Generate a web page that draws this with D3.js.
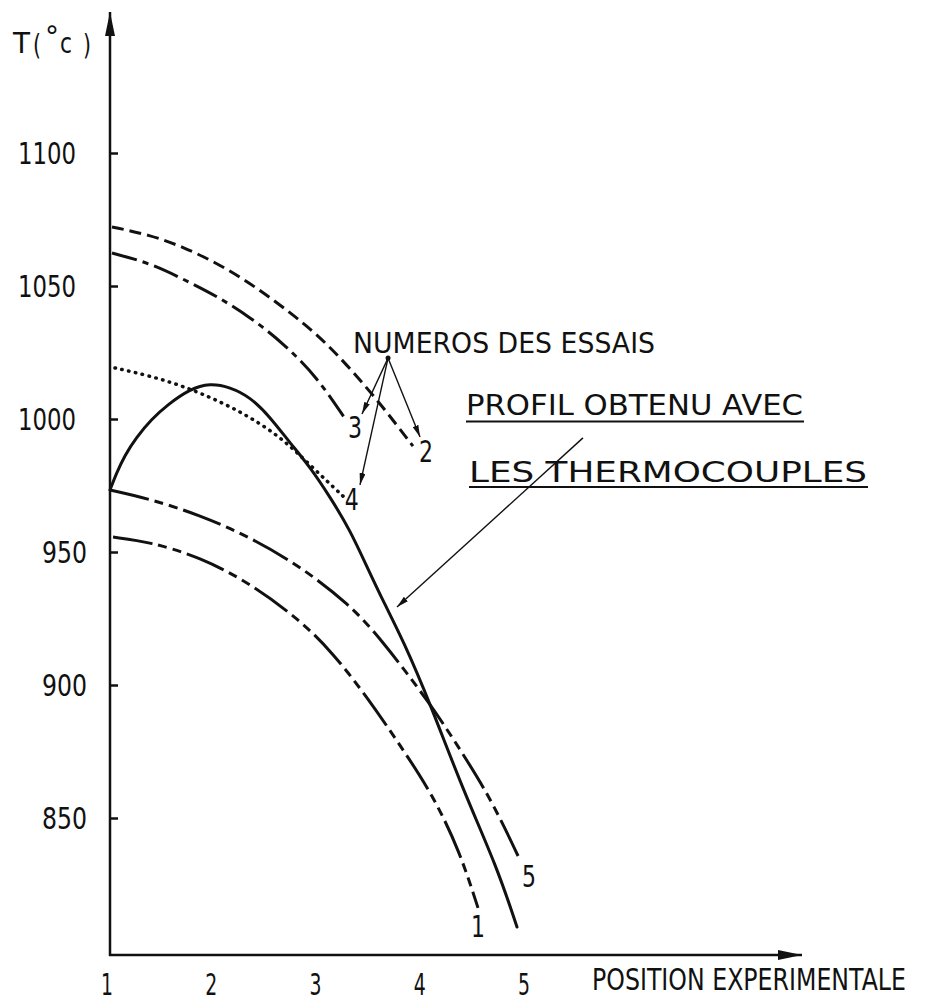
<!DOCTYPE html>
<html><head><meta charset="utf-8">
<script src="https://cdn.jsdelivr.net/npm/d3@7"></script>
<style>
html,body{margin:0;padding:0;background:#fff;}
text{font-family:"DejaVu Sans","Liberation Sans",sans-serif;fill:#111;}
</style></head>
<body>
<svg id="c" width="927" height="1003"></svg>
<script>
// ---- data ----
const xTicks = [1, 2, 3, 4, 5];
const xTickLabels = ["1", "2", "3", "4", "5"];
const yTicks = [850, 900, 950, 1000, 1050, 1100];
const yTickLabels = ["850", "900", "950", "1000", "1050", "1100"];

const essai1_pos = [1.029, 1.384, 1.863, 2.343, 2.823, 3.139, 3.465, 3.782, 4.098, 4.357, 4.530];
const essai1_T   = [955.6, 953.8, 948.1, 938.3, 924.4, 912.0, 895.5, 877.4, 858.6, 837.2, 816.2];
const essai2_pos = [1.019, 1.384, 1.700, 2.026, 2.343, 2.659, 2.986, 3.302, 3.619, 3.906];
const essai2_T   = [1072.2, 1069.2, 1064.7, 1058.6, 1051.1, 1042.1, 1032.0, 1019.2, 1004.5, 989.8];
const essai3_pos = [1.019, 1.384, 1.700, 2.026, 2.343, 2.659, 2.986, 3.264];
const essai3_T   = [1062.4, 1058.6, 1052.6, 1046.2, 1038.3, 1028.6, 1015.8, 999.6];
const essai4_pos = [1.048, 1.384, 1.700, 2.026, 2.343, 2.659, 2.918, 3.254];
const essai4_T   = [1019.2, 1016.2, 1012.4, 1007.1, 1000.8, 992.5, 982.7, 970.3];
const essai5_pos = [1.0, 1.384, 1.863, 2.343, 2.823, 3.302, 3.590, 4.070, 4.424, 4.674, 4.933];
const essai5_T   = [973.3, 969.9, 963.9, 955.6, 944.7, 930.1, 917.7, 893.2, 871.8, 855.6, 834.2];
const thermo_pos = [1.0, 1.06, 1.14, 1.25, 1.40, 1.55, 1.767, 1.959, 2.151, 2.343, 2.535, 2.727, 2.918, 3.110, 3.302, 3.465, 3.638, 3.810, 4.070, 4.386, 4.712, 4.904];
const thermo_T   = [973.3, 979.5, 986.2, 993.0, 1000.0, 1005.3, 1011.3, 1013.5, 1012.0, 1008.3, 1000.8, 991.0, 982.0, 970.7, 958.3, 944.4, 930.1, 916.9, 893.2, 860.5, 831.6, 809.0];

const curveLabels = ["1", "2", "3", "4", "5"];
const yTitle = "T(°c)";
const xTitle = "POSITION  EXPERIMENTALE";
const noteTitle = "NUMEROS  DES  ESSAIS";
const profilLine1 = "PROFIL   OBTENU   AVEC";
const profilLine2 = "LES  THERMOCOUPLES";
const yMin = 798.5;

// ---- scales ----
const svg = d3.select("#c");
const x = d3.scaleLinear().domain([1, 5]).range([110, 527]);
const y = d3.scaleLinear().domain([850, 1100]).range([818, 153]);
const x0 = x(1), y0 = y(yMin);

const defs = svg.append("defs");
defs.append("marker").attr("id", "ah").attr("viewBox", "0 0 12 6")
  .attr("refX", 12).attr("refY", 3).attr("markerWidth", 12).attr("markerHeight", 6)
  .attr("markerUnits", "userSpaceOnUse").attr("orient", "auto")
  .append("path").attr("d", "M0,0 L12,3 L0,6 Z").attr("fill", "#111");
defs.append("marker").attr("id", "bigah").attr("viewBox", "0 0 24 10")
  .attr("refX", 24).attr("refY", 5).attr("markerWidth", 24).attr("markerHeight", 10)
  .attr("markerUnits", "userSpaceOnUse").attr("orient", "auto")
  .append("path").attr("d", "M0,0 L24,5 L0,10 Z").attr("fill", "#111");

// ---- axes ----
svg.append("line").attr("x1", x0).attr("y1", y0 + 1).attr("x2", x0).attr("y2", 12)
  .attr("stroke", "#111").attr("stroke-width", 2.5).attr("marker-end", "url(#bigah)");
svg.append("line").attr("x1", x0 - 1).attr("y1", y0).attr("x2", 802).attr("y2", y0)
  .attr("stroke", "#111").attr("stroke-width", 2.5).attr("marker-end", "url(#bigah)");

const yAxis = svg.append("g").attr("transform", `translate(${x0},0)`)
  .call(d3.axisRight(y).tickValues(yTicks).tickSize(8).tickFormat(""));
yAxis.select(".domain").remove();
yAxis.selectAll("line").attr("stroke", "#111").attr("stroke-width", 2.5);

svg.selectAll(".ylab").data(yTicks).enter().append("text")
  .attr("x", (d, i) => 18 + (4 - yTickLabels[i].length) * 24)
  .attr("y", d => y(d) + 11)
  .attr("font-size", 30)
  .attr("textLength", (d, i) => yTickLabels[i].length === 4 ? 58 : 45)
  .attr("lengthAdjust", "spacingAndGlyphs")
  .text((d, i) => yTickLabels[i]);

svg.selectAll(".xlab").data(xTicks).enter().append("text")
  .attr("x", d => x(d) - 3).attr("y", 995)
  .attr("text-anchor", "middle").attr("font-size", 30)
  .attr("textLength", 12).attr("lengthAdjust", "spacingAndGlyphs")
  .text((d, i) => xTickLabels[i]);

// x title: natural width kept inside the page, stretched vertically to match lettering height
svg.append("text")
  .attr("transform", "translate(592,990) scale(1,1.32)")
  .attr("font-size", 22.5)
  .attr("textLength", 314).attr("lengthAdjust", "spacingAndGlyphs").text(xTitle);

// y title T(°c)
const yt = svg.append("g").attr("font-size", 29);
yt.append("text").attr("x", 13).attr("y", 53).attr("textLength", 17).attr("lengthAdjust", "spacingAndGlyphs").text(yTitle[0]);
yt.append("text").attr("x", 33).attr("y", 55).attr("textLength", 8).attr("lengthAdjust", "spacingAndGlyphs").text(yTitle[1]);
yt.append("text").attr("x", 45).attr("y", 46).attr("font-size", 28).text(yTitle[2]);
yt.append("text").attr("x", 60).attr("y", 53).attr("textLength", 12).attr("lengthAdjust", "spacingAndGlyphs").text(yTitle[3]);
yt.append("text").attr("x", 83).attr("y", 55).attr("textLength", 8).attr("lengthAdjust", "spacingAndGlyphs").text(yTitle[4]);

// ---- curves ----
const line = d3.line().x(d => x(d[0])).y(d => y(d[1])).curve(d3.curveBasis);
const series = [
  {p: essai1_pos, t: essai1_T, dash: "40,6,9,6,9,6", cap: "butt", w: 3},
  {p: essai2_pos, t: essai2_T, dash: "12,6", cap: "butt", w: 3},
  {p: essai3_pos, t: essai3_T, dash: "26,6,6,6", cap: "butt", w: 3},
  {p: essai4_pos, t: essai4_T, dash: "0.5,6.5", cap: "round", w: 3.5},
  {p: essai5_pos, t: essai5_T, dash: "40,6,9,6,9,6", cap: "butt", w: 3},
  {p: thermo_pos, t: thermo_T, dash: null, cap: "round", w: 3}
];
series.forEach(s => {
  svg.append("path").datum(s.p.map((v, i) => [v, s.t[i]]))
    .attr("d", line).attr("fill", "none").attr("stroke", "#111")
    .attr("stroke-width", s.w).attr("stroke-linecap", s.cap)
    .attr("stroke-dasharray", s.dash);
});

// curve labels (positions in data units)
const labelPos = [[4.53, 805.3], [4.03, 983.8], [3.35, 992.9], [3.32, 965.8], [5.02, 824.1]];
svg.selectAll(".clab").data(labelPos).enter().append("text")
  .attr("x", d => x(d[0])).attr("y", d => y(d[1]))
  .attr("text-anchor", "middle").attr("font-size", 30)
  .attr("textLength", 14).attr("lengthAdjust", "spacingAndGlyphs")
  .text((d, i) => curveLabels[i]);

// ---- annotations ----
svg.append("text").attr("x", x(3.331)).attr("y", y(1024.8)).attr("font-size", 29)
  .attr("textLength", 302).attr("lengthAdjust", "spacingAndGlyphs").text(noteTitle);
const origin = [3.667, 1022.9];
svg.append("circle").attr("cx", x(origin[0])).attr("cy", y(origin[1])).attr("r", 2.5).attr("fill", "#111");
[[3.417, 1001.9], [3.398, 975.2], [3.974, 993.2]].forEach(t => {
  svg.append("line").attr("x1", x(origin[0])).attr("y1", y(origin[1]))
    .attr("x2", x(t[0])).attr("y2", y(t[1]))
    .attr("stroke", "#111").attr("stroke-width", 1.4).attr("marker-end", "url(#ah)");
});

svg.append("text").attr("x", 466).attr("y", 415).attr("font-size", 29)
  .attr("textLength", 337).attr("lengthAdjust", "spacingAndGlyphs").text(profilLine1);
svg.append("line").attr("x1", 466).attr("x2", 804).attr("y1", 421.5).attr("y2", 421.5)
  .attr("stroke", "#111").attr("stroke-width", 2);
svg.append("text").attr("x", 469).attr("y", 482).attr("font-size", 29)
  .attr("textLength", 398).attr("lengthAdjust", "spacingAndGlyphs").text(profilLine2);
svg.append("line").attr("x1", 469).attr("x2", 868).attr("y1", 487).attr("y2", 487)
  .attr("stroke", "#111").attr("stroke-width", 2);

svg.append("line").attr("x1", x(5.537)).attr("y1", y(992.9))
  .attr("x2", x(3.753)).attr("y2", y(929.3))
  .attr("stroke", "#111").attr("stroke-width", 1.4).attr("marker-end", "url(#ah)");
</script>
</body></html>
